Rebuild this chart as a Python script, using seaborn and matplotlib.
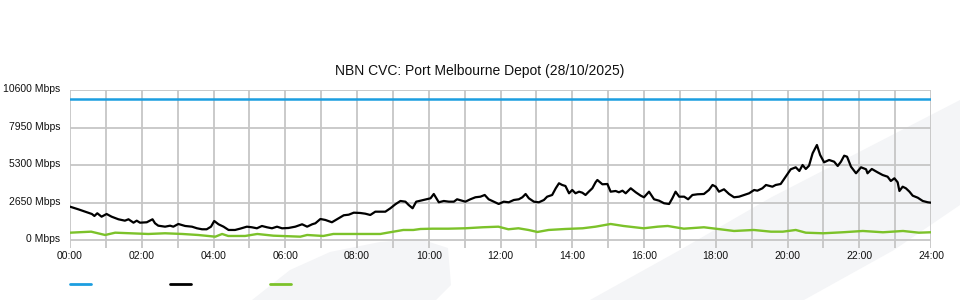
import matplotlib
matplotlib.use("Agg")
import matplotlib.pyplot as plt
import matplotlib.transforms as mtransforms
from matplotlib.patches import Polygon
from matplotlib.lines import Line2D
import seaborn as sns
import pandas as pd

# ---------------- data ----------------
title = "NBN CVC: Port Melbourne Depot (28/10/2025)"

capacity_hours = [0.0, 24.0]
capacity_mbps = [10000, 10000]

download_hours = [0.00,0.14,0.23,0.42,0.61,0.68,0.76,0.88,1.02,1.16,
                  1.35,1.53,1.63,1.77,1.86,1.95,2.14,2.30,2.37,2.46,
                  2.65,2.79,2.88,3.02,3.21,3.40,3.54,3.68,3.81,3.93,
                  4.02,4.14,4.28,4.42,4.60,4.74,4.93,5.07,5.21,5.35,
                  5.49,5.63,5.77,5.91,6.09,6.28,6.47,6.61,6.75,6.84,
                  6.98,7.12,7.30,7.44,7.63,7.77,7.91,8.09,8.23,8.37,
                  8.51,8.65,8.79,8.93,9.07,9.21,9.35,9.44,9.55,9.65,
                  9.77,9.96,10.05,10.14,10.28,10.42,10.56,10.70,10.79,10.93,
                  11.02,11.16,11.30,11.44,11.56,11.67,11.81,11.95,12.09,12.23,
                  12.37,12.51,12.61,12.70,12.79,12.93,13.07,13.21,13.30,13.44,
                  13.54,13.63,13.72,13.81,13.91,14.00,14.09,14.19,14.28,14.37,
                  14.46,14.56,14.65,14.70,14.84,14.98,15.07,15.21,15.30,15.40,
                  15.49,15.63,15.77,15.91,16.00,16.14,16.28,16.42,16.56,16.70,
                  16.79,16.88,16.98,17.12,17.23,17.35,17.49,17.67,17.81,17.91,
                  18.00,18.09,18.23,18.37,18.51,18.65,18.79,18.93,19.07,19.16,
                  19.30,19.40,19.58,19.67,19.81,19.95,20.09,20.23,20.33,20.42,
                  20.51,20.60,20.70,20.82,20.91,21.02,21.16,21.30,21.40,21.49,
                  21.58,21.66,21.77,21.91,22.05,22.19,22.23,22.35,22.51,22.65,
                  22.79,22.88,22.98,23.07,23.12,23.21,23.30,23.40,23.49,23.63,
                  23.77,23.91,24.00]
download_mbps = [2381,2268,2197,2028,1866,1726,1916,1676,1866,1676,
                 1493,1395,1493,1254,1395,1254,1282,1493,1211,1042,
                 972,1042,972,1162,1021,972,859,789,789,972,
                 1373,1141,972,740,740,831,972,930,859,1021,
                 930,859,972,859,880,972,1141,972,1141,1211,
                 1514,1444,1282,1493,1775,1817,1958,1937,1888,1796,
                 2028,2028,2028,2268,2550,2782,2733,2500,2268,2733,
                 2803,2923,2972,3275,2690,2782,2733,2733,2902,2803,
                 2733,2902,3043,3085,3205,2902,2733,2571,2733,2690,
                 2852,2902,3043,3275,2972,2733,2690,2852,3085,3205,
                 3676,4029,3909,3838,3324,3557,3324,3437,3367,3205,
                 3437,3676,4099,4261,3958,3979,3437,3486,3395,3507,
                 3324,3676,3395,3155,3043,3437,2902,2803,2620,2571,
                 2972,3437,3085,3085,2902,3205,3254,3275,3557,3909,
                 3789,3437,3606,3275,3043,3085,3205,3324,3557,3507,
                 3676,3909,3789,3909,3979,4493,5015,5155,4895,5317,
                 5036,5268,6141,6726,6022,5508,5670,5550,5247,5550,
                 5972,5902,5198,4733,5155,5015,4733,5036,4803,4613,
                 4493,4191,4381,4099,3486,3789,3676,3437,3155,3014,
                 2782,2690,2662]

upload_hours = [0.00,0.59,0.98,1.26,2.18,2.65,3.13,3.57,4.05,4.24,
                4.41,4.88,5.22,5.67,6.42,6.61,7.06,7.34,8.01,8.65,
                8.85,9.13,9.29,9.57,9.77,10.10,10.55,11.02,11.50,11.94,
                12.22,12.50,12.78,13.03,13.34,13.81,14.29,14.65,15.07,15.43,
                15.99,16.38,16.66,17.11,17.67,18.06,18.51,19.06,19.54,19.87,
                20.23,20.51,20.99,21.54,22.10,22.66,23.22,23.66,24.00]
upload_mbps = [549,620,387,549,458,507,458,387,268,458,
               317,317,458,338,268,387,317,458,458,458,
               549,669,740,740,810,831,831,859,930,972,
               789,859,740,599,740,810,859,972,1162,1021,
               859,972,1021,831,930,810,669,740,620,620,
               740,549,507,578,669,578,669,549,578]

y_ticks = [0, 2650, 5300, 7950, 10600]
y_tick_labels = ["0 Mbps", "2650 Mbps", "5300 Mbps", "7950 Mbps", "10600 Mbps"]
x_ticks = [0, 2, 4, 6, 8, 10, 12, 14, 16, 18, 20, 22, 24]
x_tick_labels = ["00:00", "02:00", "04:00", "06:00", "08:00", "10:00", "12:00",
                 "14:00", "16:00", "18:00", "20:00", "22:00", "24:00"]

# ---------------- style ----------------
sns.set_style("white")
plt.rcParams["font.family"] = ["Liberation Sans", "DejaVu Sans"]

BLUE = "#1c9ee0"
BLACK = "#000000"
GREEN = "#7cc22a"
GRID = "#c6c6c6"

W, H = 960, 300
fig = plt.figure(figsize=(9.6, 3.0), dpi=100)
fig.patch.set_facecolor("white")

# faint watermark shapes in the background (figure pixel coords -> fraction)
def fpoly(pts, color="#f4f5f7"):
    p = Polygon([(x / W, 1 - y / H) for x, y in pts], closed=True,
                transform=fig.transFigure, facecolor=color, edgecolor="none",
                zorder=-5)
    fig.patches.append(p)

fpoly([(252, 300), (290, 270), (330, 252), (380, 242), (420, 239),
       (448, 248), (451, 285), (436, 300)])
fpoly([(590, 300), (680, 250), (770, 198), (960, 100), (960, 205),
       (894, 250), (804, 300)])

ax = fig.add_axes([70 / W, 1 - 248 / H, (931 - 70) / W, (248 - 90) / H])
ax.set_zorder(2)
ax.patch.set_alpha(0)

df_cap = pd.DataFrame({"hour": capacity_hours, "mbps": capacity_mbps})
df_dn = pd.DataFrame({"hour": download_hours, "mbps": download_mbps})
df_up = pd.DataFrame({"hour": upload_hours, "mbps": upload_mbps})

sns.lineplot(data=df_cap, x="hour", y="mbps", ax=ax, color=BLUE, linewidth=1.8,
             zorder=3)
sns.lineplot(data=df_up, x="hour", y="mbps", ax=ax, color=GREEN, linewidth=1.7,
             zorder=3)
sns.lineplot(data=df_dn, x="hour", y="mbps", ax=ax, color=BLACK, linewidth=1.6,
             zorder=4)

ax.set_xlim(0, 24)
ax.set_ylim(-530, 10600)
ax.set_xticks(range(0, 25))
ax.set_xticklabels([x_tick_labels[i // 2] if i % 2 == 0 else "" for i in range(25)])
ax.set_yticks(y_ticks)
ax.set_yticklabels(y_tick_labels)
ax.tick_params(axis="both", length=0, labelsize=7.5, colors="#111111")
ax.tick_params(axis="y", pad=7)
ax.tick_params(axis="x", pad=2.5)
shift = mtransforms.ScaledTranslation(0, 2 / 100, fig.dpi_scale_trans)
for lbl in ax.get_yticklabels():
    lbl.set_transform(lbl.get_transform() + shift)
ax.set_xlabel("")
ax.set_ylabel("")
ax.grid(True, color=GRID, linewidth=1.3, zorder=1)
for s in ax.spines.values():
    s.set_visible(False)

fig.text(480 / W, 1 - 71 / H, title, ha="center", va="center", fontsize=10,
         color="#111111")

handles = [Line2D([], [], color=BLUE, linewidth=2),
           Line2D([], [], color=BLACK, linewidth=2),
           Line2D([], [], color=GREEN, linewidth=2)]
fig.legend(handles, ["", "", ""], ncol=3, frameon=False,
           loc="center left", bbox_to_anchor=(70 / W, 1 - 285 / H),
           borderpad=0, borderaxespad=0, handlelength=1.5,
           handletextpad=0, columnspacing=5.7, fontsize=10)

fig.savefig("out.png", dpi=100, facecolor="white")
